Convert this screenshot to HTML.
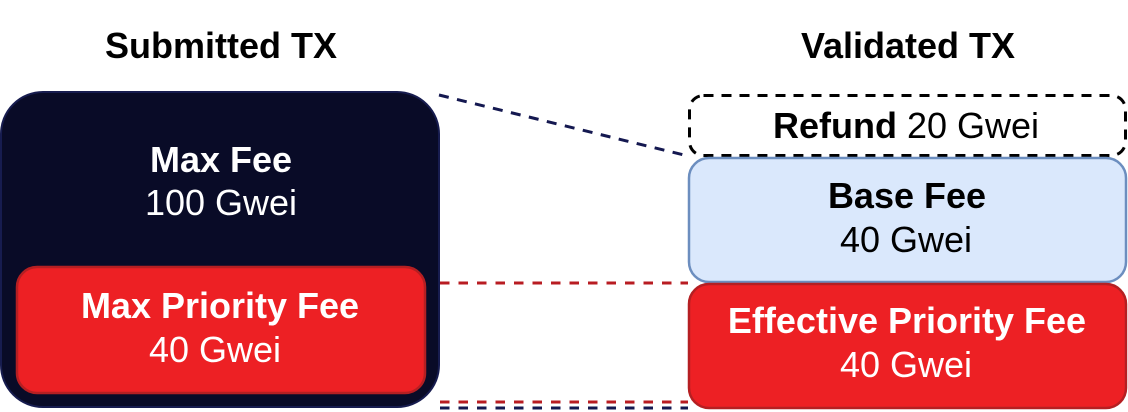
<!DOCTYPE html>
<html>
<head>
<meta charset="utf-8">
<style>
html,body{margin:0;padding:0;background:#fff;}
svg{display:block;}
text{font-family:"Liberation Sans",Arial,sans-serif;font-size:36px;}
.b{font-weight:bold;}
</style>
</head>
<body>
<svg width="1128" height="412" viewBox="0 0 1128 412" xmlns="http://www.w3.org/2000/svg">
  <!-- headers -->
  <text x="221" y="58" text-anchor="middle" class="b" fill="#000">Submitted TX</text>
  <text x="908" y="58" text-anchor="middle" class="b" fill="#000">Validated TX</text>

  <!-- connectors -->
  <line x1="439" y1="95" x2="688" y2="156" stroke="#141850" stroke-width="3" stroke-dasharray="10 8.5"/>
  <line x1="440" y1="283" x2="688" y2="283" stroke="#b81c22" stroke-width="3" stroke-dasharray="9.5 9"/>
  <line x1="440" y1="402" x2="688" y2="402" stroke="#b81c22" stroke-width="3" stroke-dasharray="9.5 9"/>
  <line x1="440" y1="408" x2="688" y2="408" stroke="#141850" stroke-width="3" stroke-dasharray="9.5 9"/>

  <!-- left dark box -->
  <rect x="1" y="92" width="438" height="315" rx="42" ry="42" fill="#090b27" stroke="#171c4f" stroke-width="2"/>
  <text x="221" y="172" text-anchor="middle" class="b" fill="#fff">Max Fee</text>
  <text x="221" y="215" text-anchor="middle" fill="#fff">100 Gwei</text>

  <!-- max priority fee -->
  <rect x="17" y="267" width="408" height="126" rx="20" ry="20" fill="#ed2024" stroke="#b51f22" stroke-width="2.5"/>
  <text x="220" y="318" text-anchor="middle" class="b" fill="#fff">Max Priority Fee</text>
  <text x="215" y="362" text-anchor="middle" fill="#fff">40 Gwei</text>

  <!-- refund dashed box -->
  <rect x="689.5" y="95.5" width="436" height="60" rx="14" ry="14" fill="none" stroke="#000" stroke-width="3" stroke-dasharray="10 8"/>
  <text x="906" y="138" text-anchor="middle" fill="#000"><tspan class="b">Refund</tspan> 20 Gwei</text>

  <!-- base fee -->
  <rect x="689" y="158" width="437" height="124" rx="20" ry="20" fill="#dae8fc" stroke="#6c8ebf" stroke-width="2.5"/>
  <text x="907" y="208" text-anchor="middle" class="b" fill="#000">Base Fee</text>
  <text x="906" y="252" text-anchor="middle" fill="#000">40 Gwei</text>

  <!-- effective priority fee -->
  <rect x="689" y="284" width="437" height="124" rx="20" ry="20" fill="#ed2024" stroke="#b51f22" stroke-width="2.5"/>
  <text x="907" y="333" text-anchor="middle" class="b" fill="#fff">Effective Priority Fee</text>
  <text x="906" y="377" text-anchor="middle" fill="#fff">40 Gwei</text>
</svg>
</body>
</html>
